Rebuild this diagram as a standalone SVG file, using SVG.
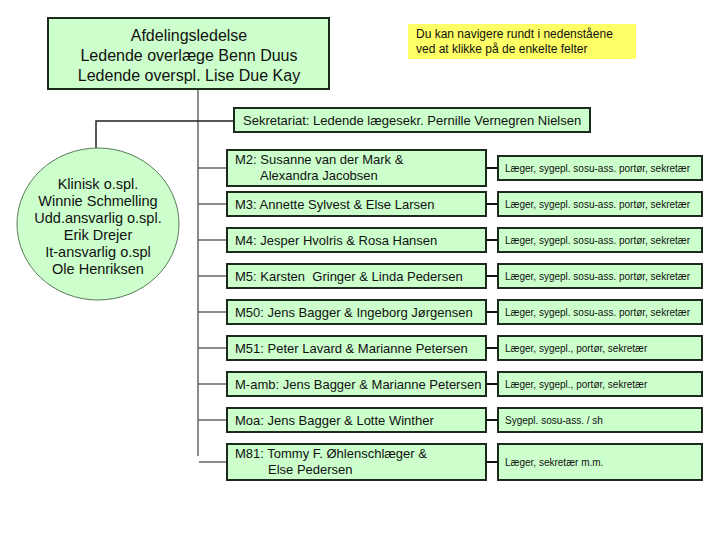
<svg xmlns="http://www.w3.org/2000/svg" width="720" height="540" viewBox="0 0 720 540">
<style>
.box{fill:#ccffcc;stroke:#1c2a1c;stroke-width:2}
.t{font-family:"Liberation Sans",Arial,sans-serif;fill:#111}
.m{font-size:13px}
.s{font-size:10px}
.c{stroke:#666;stroke-width:1.5;fill:none}
.k{stroke:#222;stroke-width:1.5;fill:none}
.r{stroke:#111;stroke-width:2;fill:none}
</style>
<rect width="720" height="540" fill="#fff"/>
<g id="connectors">
<line class="c" x1="198" y1="89" x2="198" y2="456"/>
<polyline class="k" points="96,148 96,121 233,121"/>
<line class="c" x1="198" y1="168" x2="227" y2="168"/>
<line class="c" x1="198" y1="204" x2="227" y2="204"/>
<line class="c" x1="198" y1="240" x2="227" y2="240"/>
<line class="c" x1="198" y1="276" x2="227" y2="276"/>
<line class="c" x1="198" y1="312" x2="227" y2="312"/>
<line class="c" x1="198" y1="348" x2="227" y2="348"/>
<line class="c" x1="198" y1="384" x2="227" y2="384"/>
<line class="c" x1="198" y1="420" x2="227" y2="420"/>
<line class="c" x1="199" y1="462" x2="227" y2="462"/>
<line class="r" x1="486" y1="168" x2="498" y2="168"/>
<line class="r" x1="486" y1="204" x2="498" y2="204"/>
<line class="r" x1="486" y1="240" x2="498" y2="240"/>
<line class="r" x1="486" y1="276" x2="498" y2="276"/>
<line class="r" x1="486" y1="312" x2="498" y2="312"/>
<line class="r" x1="486" y1="348" x2="498" y2="348"/>
<line class="r" x1="486" y1="384" x2="498" y2="384"/>
<line class="r" x1="486" y1="420" x2="498" y2="420"/>
<line class="r" x1="486" y1="462" x2="498" y2="462"/>
</g>
<g id="top">
<rect class="box" x="48" y="18" width="281" height="71"/>
<text class="t" font-size="16" text-anchor="middle"><tspan x="189" y="41">Afdelingsledelse</tspan><tspan x="189" y="61">Ledende overlæge Benn Duus</tspan><tspan x="189" y="81">Ledende overspl. Lise Due Kay</tspan></text>
</g>
<g id="note">
<rect x="408" y="24" width="228" height="35" fill="#ffff66"/>
<text class="t" font-size="12"><tspan x="416" y="38">Du kan navigere rundt i nedenståene</tspan><tspan x="416" y="53">ved at klikke på de enkelte felter</tspan></text>
</g>
<g id="sekretariat">
<rect class="box" x="234" y="108" width="356" height="24"/>
<text class="t m" x="243" y="125">Sekretariat: Ledende lægesekr. Pernille Vernegren Nielsen</text>
</g>
<g id="klinisk">
<ellipse cx="98" cy="224" rx="81" ry="76" fill="#ccffcc" stroke="#5a7a5a" stroke-width="1"/>
<text class="t" font-size="14.5" text-anchor="middle"><tspan x="98" y="189">Klinisk o.spl.</tspan><tspan x="98" y="206">Winnie Schmelling</tspan><tspan x="98" y="223">Udd.ansvarlig o.spl.</tspan><tspan x="98" y="240">Erik Drejer</tspan><tspan x="98" y="257">It-ansvarlig o.spl</tspan><tspan x="98" y="274">Ole Henriksen</tspan></text>
</g>
<g id="m2">
<rect class="box" x="227" y="150" width="259" height="36"/>
<text class="t m"><tspan x="235" y="164">M2: Susanne van der Mark &amp;</tspan><tspan x="260" y="180">Alexandra Jacobsen</tspan></text>
</g>
<g id="m3">
<rect class="box" x="227" y="192" width="259" height="24"/>
<text class="t m" x="235" y="209">M3: Annette Sylvest &amp; Else Larsen</text>
</g>
<g id="m4">
<rect class="box" x="227" y="228" width="259" height="24"/>
<text class="t m" x="235" y="245">M4: Jesper Hvolris &amp; Rosa Hansen</text>
</g>
<g id="m5">
<rect class="box" x="227" y="264" width="259" height="24"/>
<text class="t m" x="235" y="281" xml:space="preserve">M5: Karsten  Gringer &amp; Linda Pedersen</text>
</g>
<g id="m50">
<rect class="box" x="227" y="300" width="259" height="24"/>
<text class="t m" x="235" y="317">M50: Jens Bagger &amp; Ingeborg Jørgensen</text>
</g>
<g id="m51">
<rect class="box" x="227" y="336" width="259" height="24"/>
<text class="t m" x="235" y="353">M51: Peter Lavard &amp; Marianne Petersen</text>
</g>
<g id="mamb">
<rect class="box" x="227" y="372" width="259" height="24"/>
<text class="t m" x="235" y="389">M-amb: Jens Bagger &amp; Marianne Petersen</text>
</g>
<g id="moa">
<rect class="box" x="227" y="408" width="259" height="24"/>
<text class="t m" x="235" y="425">Moa: Jens Bagger &amp; Lotte Winther</text>
</g>
<g id="m81">
<rect class="box" x="227" y="444" width="259" height="36"/>
<text class="t m"><tspan x="235" y="458">M81: Tommy F. Øhlenschlæger &amp;</tspan><tspan x="268" y="474">Else Pedersen</tspan></text>
</g>
<g id="r2"><rect class="box" x="498" y="156" width="204" height="24"/><text class="t s" x="505" y="172">Læger, sygepl. sosu-ass. portør, sekretær</text></g>
<g id="r3"><rect class="box" x="498" y="192" width="204" height="24"/><text class="t s" x="505" y="208">Læger, sygepl. sosu-ass. portør, sekretær</text></g>
<g id="r4"><rect class="box" x="498" y="228" width="204" height="24"/><text class="t s" x="505" y="244">Læger, sygepl. sosu-ass. portør, sekretær</text></g>
<g id="r5"><rect class="box" x="498" y="264" width="204" height="24"/><text class="t s" x="505" y="280">Læger, sygepl. sosu-ass. portør, sekretær</text></g>
<g id="r50"><rect class="box" x="498" y="300" width="204" height="24"/><text class="t s" x="505" y="316">Læger, sygepl. sosu-ass. portør, sekretær</text></g>
<g id="r51"><rect class="box" x="498" y="336" width="204" height="24"/><text class="t s" x="505" y="352">Læger, sygepl., portør, sekretær</text></g>
<g id="ramb"><rect class="box" x="498" y="372" width="204" height="24"/><text class="t s" x="505" y="388">Læger, sygepl., portør, sekretær</text></g>
<g id="rmoa"><rect class="box" x="498" y="408" width="204" height="24"/><text class="t s" x="505" y="424">Sygepl. sosu-ass. / sh</text></g>
<g id="r81"><rect class="box" x="498" y="444" width="204" height="36"/><text class="t s" x="505" y="466">Læger, sekretær m.m.</text></g>
</svg>
